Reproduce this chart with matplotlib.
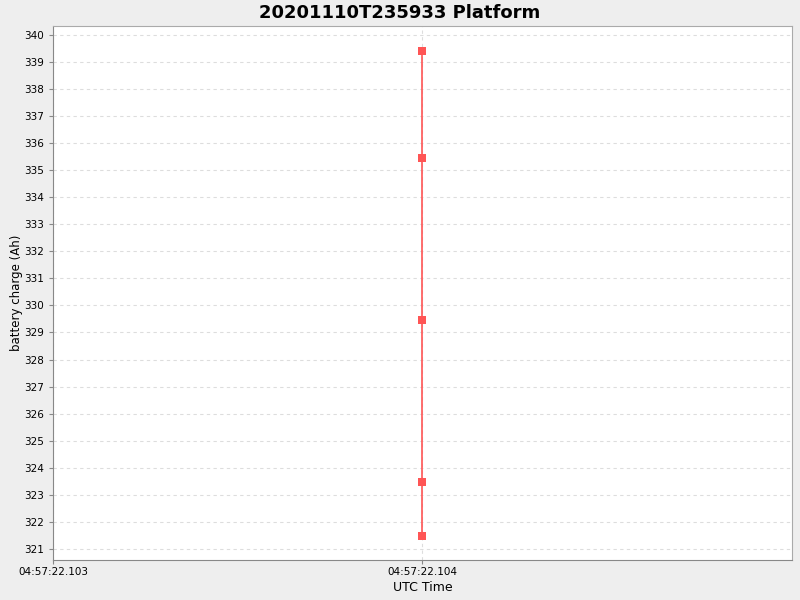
import matplotlib
matplotlib.use('Agg')
from matplotlib import pyplot as plt
from matplotlib.ticker import FuncFormatter, FixedLocator, MultipleLocator

# Time in seconds since midnight (UTC)
times = [17842.104, 17842.104, 17842.104, 17842.104, 17842.104]
charge = [339.41, 335.45, 329.46, 323.47, 321.48]
x_ticks = [17842.103, 17842.104]
title = '20201110T235933 Platform'


def fmt_time(value, pos=None):
    ms = int(round(value * 1000))
    h, rest = divmod(ms, 3600000)
    m, rest = divmod(rest, 60000)
    s, ms = divmod(rest, 1000)
    return '%02d:%02d:%02d.%03d' % (h, m, s, ms)


fig = plt.figure(figsize=(8, 6), dpi=100, facecolor='#EEEEEE')
ax = fig.add_axes([53 / 800, 40 / 600, 739 / 800, 534 / 600])
ax.set_facecolor('white')

ax.plot(times, charge, color='#FF5555', linewidth=1.2, marker='s',
        markersize=6, markeredgewidth=0, zorder=3)

ax.set_xlim(17842.103, 17842.105003)
ax.set_ylim(320.59, 340.33)
ax.xaxis.set_major_locator(FixedLocator(x_ticks))
ax.xaxis.set_major_formatter(FuncFormatter(fmt_time))
ax.yaxis.set_major_locator(MultipleLocator(1))

ax.grid(True, color='#DDDDDD', linestyle=(0, (3, 3)), linewidth=0.8)
ax.set_axisbelow(True)

for side in ['top', 'right']:
    ax.spines[side].set_color('#AAAAAA')
for side in ['left', 'bottom']:
    ax.spines[side].set_color('#888888')
ax.tick_params(axis='both', colors='#888888', labelcolor='black',
               labelsize=7.5, length=3)
ax.tick_params(axis='x', pad=2)

ax.set_xlabel('UTC Time', fontsize=9, labelpad=3)
ax.set_ylabel('battery charge (Ah)', fontsize=8.5, labelpad=1)
fig.suptitle(title, fontsize=13, fontweight='bold', y=0.993)

fig.savefig('out.png', dpi=100, facecolor=fig.get_facecolor())
